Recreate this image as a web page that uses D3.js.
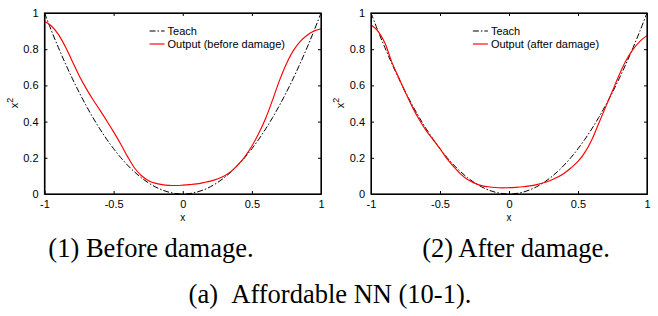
<!DOCTYPE html>
<meta charset="utf-8">
<style>
body { margin: 0; background: #fff; }
.tick text { font-family: "Liberation Sans", Arial, sans-serif; font-size: 11px; fill: #000; }
.teach { fill: none; stroke: #000; stroke-width: 1px; stroke-dasharray: 6,2,1.5,2; }
.output { fill: none; stroke: #f00; stroke-width: 1.15px; }
.caption { font-family: "Liberation Serif", "Times New Roman", serif; font-size: 26.5px; fill: #000; }
.lbl { font-family: "Liberation Sans", Arial, sans-serif; font-size: 11px; fill: #000; }
</style>
<body>
<script src="https://cdn.jsdelivr.net/npm/d3@7"></script>
<script>

// sample points along x
var xs = [-1, -0.95, -0.9, -0.85, -0.8, -0.75, -0.7, -0.65, -0.6, -0.55, -0.5,
          -0.45, -0.4, -0.35, -0.3, -0.25, -0.2, -0.15, -0.1, -0.05, 0,
          0.05, 0.1, 0.15, 0.2, 0.25, 0.3, 0.35, 0.4, 0.45, 0.5,
          0.55, 0.6, 0.65, 0.7, 0.75, 0.8, 0.85, 0.9, 0.95, 1];

// teach signal (x^2)
var teach = [1, 0.9025, 0.81, 0.7225, 0.64, 0.5625, 0.49, 0.4225, 0.36, 0.3025, 0.25,
             0.2025, 0.16, 0.1225, 0.09, 0.0625, 0.04, 0.0225, 0.01, 0.0025, 0,
             0.0025, 0.01, 0.0225, 0.04, 0.0625, 0.09, 0.1225, 0.16, 0.2025, 0.25,
             0.3025, 0.36, 0.4225, 0.49, 0.5625, 0.64, 0.7225, 0.81, 0.9025, 1];

// network output before damage
var before = [0.954, 0.928, 0.882, 0.815, 0.735, 0.655, 0.585, 0.522, 0.465, 0.405, 0.343,
              0.278, 0.208, 0.145, 0.102, 0.075, 0.06, 0.052, 0.048, 0.047, 0.049,
              0.052, 0.056, 0.063, 0.071, 0.083, 0.1, 0.125, 0.162, 0.207, 0.265,
              0.336, 0.419, 0.52, 0.628, 0.72, 0.792, 0.843, 0.877, 0.9, 0.913];

// network output after damage
var after = [0.935, 0.9, 0.835, 0.73, 0.645, 0.56, 0.48, 0.41, 0.35, 0.3, 0.25,
             0.195, 0.15, 0.11, 0.08, 0.06, 0.046, 0.04, 0.036, 0.034, 0.035,
             0.037, 0.04, 0.045, 0.052, 0.062, 0.075, 0.092, 0.115, 0.145, 0.18,
             0.23, 0.3, 0.39, 0.48, 0.57, 0.66, 0.74, 0.8, 0.845, 0.875];

var xTicks = [-1, -0.5, 0, 0.5, 1];
var yTicks = [0, 0.2, 0.4, 0.6, 0.8, 1];

var panels = [
  {left: 44.5, right: 321, out: before, label: "Output (before damage)", cap: "(1) Before damage.", capX: 151},
  {left: 371, right: 647, out: after, label: "Output (after damage)", cap: "(2) After damage.", capX: 516}
];
var plotTop = 13, plotBottom = 194;
var fmt = function(d) { return String(d); };

var svg = d3.select("body").append("svg")
    .attr("width", 658)
    .attr("height", 316);

var y = d3.scaleLinear().domain([0, 1]).range([plotBottom, plotTop]);

panels.forEach(function(p, k) {
  var x = d3.scaleLinear().domain([-1, 1]).range([p.left, p.right]);
  var g = svg.append("g");

  var line = function(vals) {
    return d3.line().curve(d3.curveCatmullRom)
      .x(function(d, i) { return x(xs[i]); })
      .y(function(d) { return y(d); })(vals);
  };

  // axes, MATLAB style inward ticks on all four sides
  g.append("g").attr("transform", "translate(0," + plotBottom + ")")
    .call(d3.axisBottom(x).tickValues(xTicks).tickFormat(fmt).tickSizeInner(-3).tickSizeOuter(0).tickPadding(6));
  g.append("g").attr("transform", "translate(0," + plotTop + ")")
    .call(d3.axisTop(x).tickValues(xTicks).tickFormat("").tickSizeInner(-3).tickSizeOuter(0));
  g.append("g").attr("transform", "translate(" + p.left + ",0)")
    .call(d3.axisLeft(y).tickValues(yTicks).tickFormat(fmt).tickSizeInner(-3).tickSizeOuter(0).tickPadding(6));
  g.append("g").attr("transform", "translate(" + p.right + ",0)")
    .call(d3.axisRight(y).tickValues(yTicks).tickFormat("").tickSizeInner(-3).tickSizeOuter(0));
  g.selectAll(".domain").attr("stroke", "#000");
  g.selectAll(".tick line").attr("stroke", "#000");

  g.append("path").attr("class", "teach").attr("d", line(teach));
  g.append("path").attr("class", "output").attr("d", line(p.out));

  g.append("rect")
    .attr("x", p.left).attr("y", plotTop)
    .attr("width", p.right - p.left).attr("height", plotBottom - plotTop)
    .attr("fill", "none").attr("stroke", "#000").attr("stroke-width", 1.2);

  // legend
  var lx = x(-0.24) - (k ? 3 : 0);
  g.append("line").attr("class", "teach")
    .attr("x1", lx).attr("x2", lx + 15).attr("y1", 31).attr("y2", 31);
  g.append("line").attr("class", "output")
    .attr("x1", lx).attr("x2", lx + 15).attr("y1", 44).attr("y2", 44);
  g.append("text").attr("class", "lbl").attr("x", lx + 18).attr("y", 35).text("Teach");
  g.append("text").attr("class", "lbl").attr("x", lx + 18).attr("y", 48).text(p.label);

  // axis labels
  g.append("text").attr("class", "lbl").attr("text-anchor", "middle")
    .attr("x", x(0)).attr("y", 221).style("font-size", "10px").text("x");
  var yl = g.append("text").attr("class", "lbl").attr("text-anchor", "middle")
    .attr("transform", "translate(" + (p.left - 27) + ",103) rotate(-90)");
  yl.append("tspan").text("x");
  yl.append("tspan").attr("dy", -5).style("font-size", "9px").text("2");

  svg.append("text").attr("class", "caption").attr("text-anchor", "middle")
    .attr("x", p.capX).attr("y", 257).text(p.cap);
});

svg.append("text").attr("class", "caption").attr("text-anchor", "middle")
  .attr("x", 330).attr("y", 303).text("(a)\u00a0\u00a0Affordable NN (10-1).");

</script>
</body>
